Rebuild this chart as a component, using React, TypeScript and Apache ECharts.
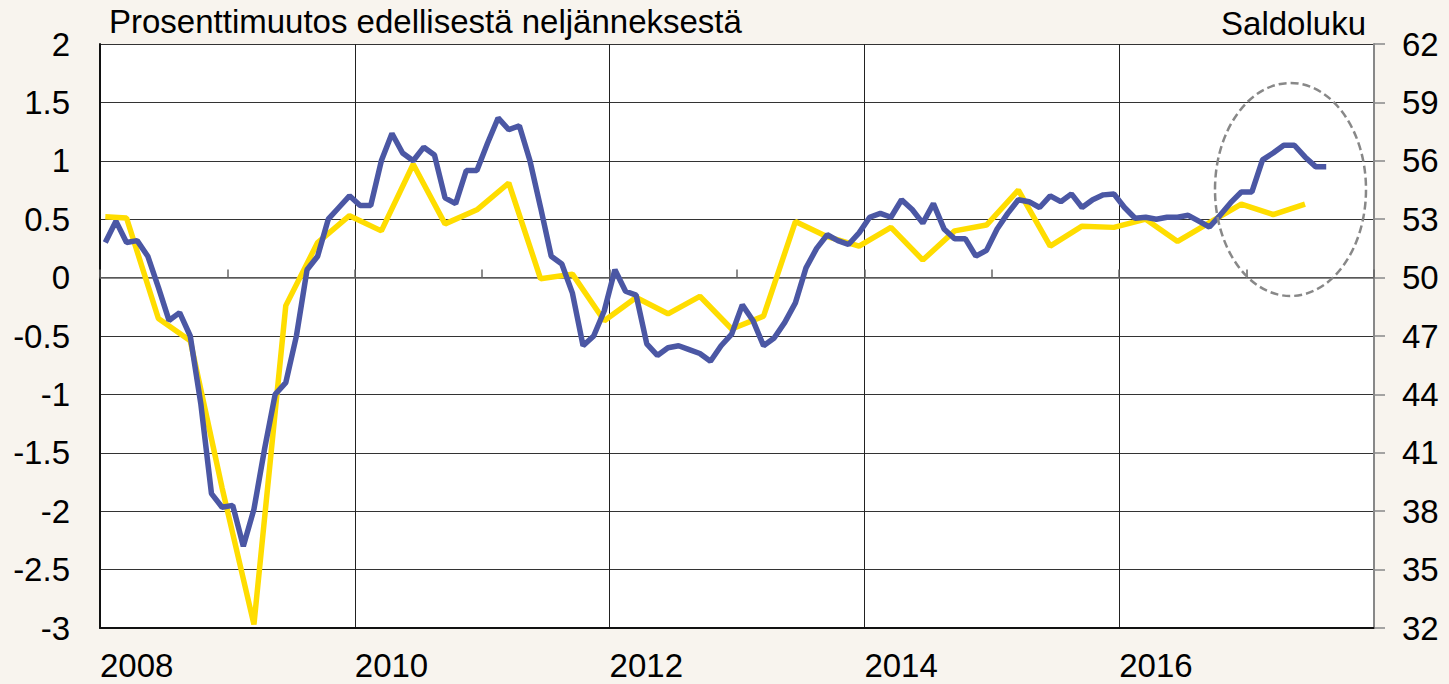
import React, { useEffect, useRef } from "react";
import * as echarts from "echarts";

// Monthly categories Jan 2008 – Dec 2017
const years = [2008, 2009, 2010, 2011, 2012, 2013, 2014, 2015, 2016, 2017];
const monthNums = ["01", "02", "03", "04", "05", "06", "07", "08", "09", "10", "11", "12"];
const months: string[] = [];
years.forEach((y) => monthNums.forEach((m) => months.push(`${y}-${m}`)));

// Blue line: saldoluku (right axis), monthly Jan 2008 – Aug 2017
const saldoluku = [
  51.8, 52.9, 51.8, 51.9, 51.1, 49.5, 47.8, 48.2, 47.0, 43.5, 38.9, 38.2,
  38.3, 36.2, 38.1, 41.2, 44.0, 44.6, 47.0, 50.4, 51.1, 53.0, 53.6, 54.2,
  53.7, 53.7, 56.0, 57.4, 56.4, 56.0, 56.7, 56.3, 54.1, 53.8, 55.5, 55.5,
  56.9, 58.2, 57.6, 57.8, 56.0, 53.6, 51.1, 50.7, 49.2, 46.5, 47.0, 48.3,
  50.4, 49.3, 49.1, 46.6, 46.0, 46.4, 46.5, 46.3, 46.1, 45.7, 46.5, 47.1,
  48.6, 47.8, 46.5, 46.9, 47.7, 48.7, 50.5, 51.5, 52.2, 51.9, 51.7, 52.3,
  53.1, 53.3, 53.1, 54.0, 53.5, 52.8, 53.8, 52.5, 52.0, 52.0, 51.1, 51.4,
  52.5, 53.3, 54.0, 53.9, 53.6, 54.2, 53.9, 54.3, 53.6, 54.0, 54.25, 54.3,
  53.6, 53.05, 53.1, 53.0, 53.1, 53.1, 53.2, 52.9, 52.6, 53.2, 53.85, 54.4,
  54.4, 56.05, 56.4, 56.8, 56.8, 56.2, 55.7, 55.7,
];

// Yellow line: percentage change from previous quarter (left axis)
const gdpMonths = [
  "2008-01", "2008-03", "2008-06", "2008-09", "2008-12",
  "2009-03", "2009-06", "2009-09", "2009-12",
  "2010-03", "2010-06", "2010-09", "2010-12",
  "2011-03", "2011-06", "2011-09", "2011-12",
  "2012-03", "2012-06", "2012-09", "2012-12",
  "2013-03", "2013-06", "2013-09", "2013-12",
  "2014-03", "2014-06", "2014-09", "2014-12",
  "2015-03", "2015-06", "2015-09", "2015-12",
  "2016-03", "2016-06", "2016-09", "2016-12",
  "2017-03", "2017-06",
];
const gdpChange = [
  0.52, 0.51, -0.35, -0.54, -1.8,
  -2.97, -0.24, 0.3, 0.53,
  0.4, 0.97, 0.46, 0.58,
  0.81, -0.01, 0.03, -0.37,
  -0.17, -0.31, -0.16, -0.44,
  -0.33, 0.48, 0.35, 0.27,
  0.43, 0.15, 0.4, 0.45,
  0.75, 0.27, 0.44, 0.43,
  0.5, 0.31, 0.47, 0.63,
  0.54, 0.63,
];

const leftTitle = "Prosenttimuutos edellisestä neljänneksestä";
const rightTitle = "Saldoluku";

const FONT = 'Arial, "Liberation Sans", sans-serif';
const FS = 33;
const BG = "#f8f4ee";

export default function App() {
  const ref = useRef<HTMLDivElement>(null);

  useEffect(() => {
    if (!ref.current) return;
    const chart = echarts.init(ref.current, undefined, { renderer: "svg" });
    chart.setOption({
      animation: false,
      backgroundColor: BG,
      grid: { left: 100, right: 75, top: 44, bottom: 56, show: true, backgroundColor: "#ffffff", borderWidth: 0 },
      xAxis: [
        {
          type: "category",
          data: months,
          boundaryGap: true,
          axisLine: { show: true, onZero: true, onZeroAxisIndex: 0, lineStyle: { color: "#666", width: 1.5 } },
          axisTick: { show: true, inside: true, length: 8, interval: (i: number) => i % 12 === 0, lineStyle: { color: "#666", width: 1.5 } },
          axisLabel: { show: false },
          splitLine: { show: false },
        },
        {
          type: "value",
          position: "bottom",
          min: 0,
          max: 120,
          interval: 24,
          axisLine: { show: true, onZero: false, lineStyle: { color: "#111", width: 2 } },
          axisTick: { show: false },
          axisLabel: {
            show: true,
            fontSize: FS,
            fontFamily: FONT,
            color: "#000",
            align: "left",
            margin: 21,
            formatter: (v: number) => (v < 120 ? String(2008 + v / 12) : ""),
          },
          splitLine: { show: true, lineStyle: { color: "#222", width: 1 } },
        },
      ],
      yAxis: [
        {
          type: "value",
          position: "left",
          min: -3,
          max: 2,
          interval: 0.5,
          axisLine: { show: true, lineStyle: { color: "#111", width: 2 } },
          axisTick: { show: false },
          axisLabel: { fontSize: FS, fontFamily: FONT, color: "#000", margin: 30, formatter: (v: number) => String(v) },
          splitLine: { show: true, lineStyle: { color: "#333", width: 1 } },
        },
        {
          type: "value",
          position: "right",
          min: 32,
          max: 62,
          interval: 3,
          axisLine: { show: true, lineStyle: { color: "#888", width: 2 } },
          axisTick: { show: true, length: 11, lineStyle: { color: "#888", width: 1.5 } },
          axisLabel: { fontSize: FS, fontFamily: FONT, color: "#000", margin: 28 },
          splitLine: { show: false },
        },
      ],
      series: [
        {
          type: "line",
          name: "BKT",
          xAxisIndex: 0,
          yAxisIndex: 0,
          data: gdpMonths.map((m, k) => [m, gdpChange[k]]),
          showSymbol: false,
          symbol: "none",
          lineStyle: { color: "#ffdd00", width: 5.5 },
          z: 3,
        },
        {
          type: "line",
          name: "Saldoluku",
          xAxisIndex: 0,
          yAxisIndex: 1,
          data: saldoluku,
          showSymbol: false,
          symbol: "none",
          lineStyle: { color: "#4b57a4", width: 5.5 },
          z: 4,
        },
      ],
      graphic: [
        {
          type: "text",
          x: 109,
          y: 5,
          style: { text: leftTitle, fontSize: FS, fontFamily: FONT, fill: "#000", textAlign: "left", textVerticalAlign: "top" },
        },
        {
          type: "text",
          x: 1366,
          y: 7,
          style: { text: rightTitle, fontSize: FS, fontFamily: FONT, fill: "#000", textAlign: "right", textVerticalAlign: "top" },
        },
        {
          type: "ellipse",
          shape: { cx: 1290.5, cy: 189.5, rx: 75.5, ry: 106.5 },
          style: { fill: "none", stroke: "#888", lineWidth: 2.5, lineDash: [8, 4] },
          z: 100,
        },
      ],
    });
    return () => chart.dispose();
  }, []);

  return (
    <div
      ref={ref}
      style={{ position: "fixed", left: 0, top: 0, width: 1449, height: 684, background: BG }}
    />
  );
}
